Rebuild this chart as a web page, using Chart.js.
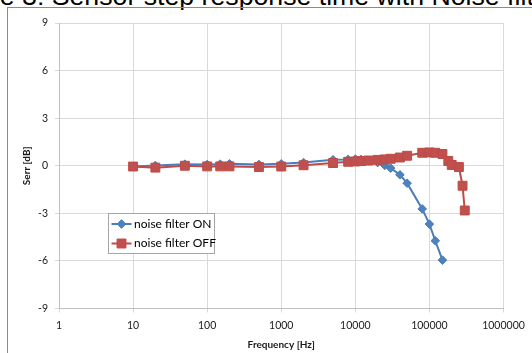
<!DOCTYPE html>
<html><head><meta charset="utf-8">
<script src="https://cdn.jsdelivr.net/npm/chart.js@4/dist/chart.umd.min.js"></script>
<style>
html,body{margin:0;padding:0;background:#fff;overflow:hidden;width:532px;height:353px}
#title{position:absolute;left:-61px;top:-17.5px;font:26.7px "Liberation Sans",Arial,sans-serif;color:#000;white-space:nowrap;line-height:26.7px}
#frame{position:absolute;left:7px;top:7px;width:640px;height:420px;border:1px solid #8a8a8a;box-sizing:border-box}
#wrap{position:absolute;left:0;top:0;width:532px;height:353px}
</style></head><body>
<div id="title">Figure 3: Sensor step response time with Noise filter</div>
<div id="frame"></div>
<div id="wrap"><canvas id="c" width="532" height="353"></canvas></div>
<script>
const freqOn  = [10,20,50,100,150,200,500,1000,2000,5000,8000,10000,12000,15000,20000,25000,30000,40000,50000,80000,100000,120000,150000];
const serrOn  = [-0.05,0.02,0.1,0.08,0.1,0.12,0.08,0.12,0.2,0.38,0.4,0.42,0.4,0.35,0.2,0.02,-0.15,-0.57,-1.1,-2.72,-3.68,-4.73,-5.95];
const freqOff = [10,20,50,100,150,200,500,1000,2000,5000,8000,10000,12000,15000,20000,25000,30000,40000,50000,80000,100000,120000,150000,180000,200000,250000,280000,300000];
const serrOff = [-0.05,-0.12,0.0,-0.04,-0.04,-0.04,-0.08,-0.05,0.03,0.17,0.25,0.27,0.3,0.33,0.37,0.4,0.44,0.52,0.63,0.82,0.84,0.82,0.74,0.3,0.05,-0.08,-1.26,-2.82];
const xTicks = [1,10,100,1000,10000,100000,1000000];
const yTicks = [-9,-6,-3,0,3,6,9];
const labels = ['noise filter ON','noise filter OFF'];

const toPts = (xs, ys) => xs.map((x, i) => ({x: x, y: ys[i]}));
const FONT = 'Lato';

const legendPlugin = {
  id: 'boxLegend',
  afterDraw(chart) {
    const ctx = chart.ctx;
    const bx = 108.5, by = 213.5, bw = 106, bh = 40;
    ctx.save();
    ctx.fillStyle = '#fff';
    ctx.fillRect(bx, by, bw, bh);
    ctx.strokeStyle = '#a6a6a6';
    ctx.lineWidth = 1;
    ctx.strokeRect(bx, by, bw, bh);
    const ys = [224, 243.5];
    chart.data.datasets.forEach((ds, i) => {
      const y = ys[i];
      ctx.strokeStyle = ds.borderColor;
      ctx.lineWidth = 2;
      ctx.beginPath(); ctx.moveTo(111.5, y); ctx.lineTo(131.5, y); ctx.stroke();
      ctx.fillStyle = ds.pointBackgroundColor;
      ctx.strokeStyle = ds.pointBorderColor;
      ctx.lineWidth = 1;
      Chart.helpers.drawPoint(ctx, {pointStyle: ds.pointStyle, radius: ds.pointRadius, borderWidth: 1}, 121.5, y);
      ctx.fillStyle = '#000';
      ctx.font = '12px ' + FONT;
      ctx.textBaseline = 'middle';
      ctx.textAlign = 'left';
      ctx.fillText(ds.label, 134, y);
    });
    ctx.restore();
  }
};

new Chart(document.getElementById('c'), {
  type: 'scatter',
  data: {
    datasets: [
      {label: labels[0], data: toPts(freqOn, serrOn), showLine: true, order: 1,
       borderColor: '#4a7ebb', borderWidth: 2, pointStyle: 'rectRot', pointRadius: 4.3,
       pointBackgroundColor: '#4f81bd', pointBorderColor: '#4a7ebb', pointBorderWidth: 1, tension: 0},
      {label: labels[1], data: toPts(freqOff, serrOff), showLine: true, order: 0,
       borderColor: '#be4b48', borderWidth: 2, pointStyle: 'rect', pointRadius: 6.3,
       pointBackgroundColor: '#c0504d', pointBorderColor: '#be4b48', pointBorderWidth: 1, tension: 0}
    ]
  },
  options: {
    responsive: false, animation: false, devicePixelRatio: 1,
    layout: {padding: {left: 0, top: 23, right: 28.5, bottom: 0}},
    plugins: {legend: {display: false}, tooltip: {enabled: false}},
    scales: {
      x: {
        type: 'logarithmic', min: 1, max: 1000000,
        afterBuildTicks: s => { s.ticks = xTicks.map(v => ({value: v})); },
        afterFit: s => { s.height = 44.5; },
        ticks: {callback: v => String(v), autoSkip: false, maxRotation: 0, padding: 7,
                color: '#1a1a1a', font: {family: FONT, size: 10.5}},
        grid: {color: '#d9d9d9', tickLength: 4, tickColor: '#d9d9d9'},
        border: {color: '#bfbfbf'},
        title: {display: true, text: 'Frequency [Hz]', color: '#1a1a1a',
                font: {family: FONT, size: 10, weight: 'bold'}, padding: {top: 0, bottom: 2.5}}
      },
      y: {
        min: -9, max: 9,
        afterBuildTicks: s => { s.ticks = yTicks.map(v => ({value: v})); },
        afterFit: s => { s.width = 59; },
        ticks: {callback: v => String(v), padding: 7, color: '#1a1a1a', font: {family: FONT, size: 10.5}},
        grid: {color: '#d9d9d9', tickLength: 4, tickColor: '#d9d9d9'},
        border: {color: '#bfbfbf'},
        title: {display: true, text: 'Serr [dB]', color: '#1a1a1a',
                font: {family: FONT, size: 10, weight: 'bold'}, padding: {top: 21, bottom: 0}}
      }
    }
  },
  plugins: [legendPlugin]
});
</script>
</body></html>
